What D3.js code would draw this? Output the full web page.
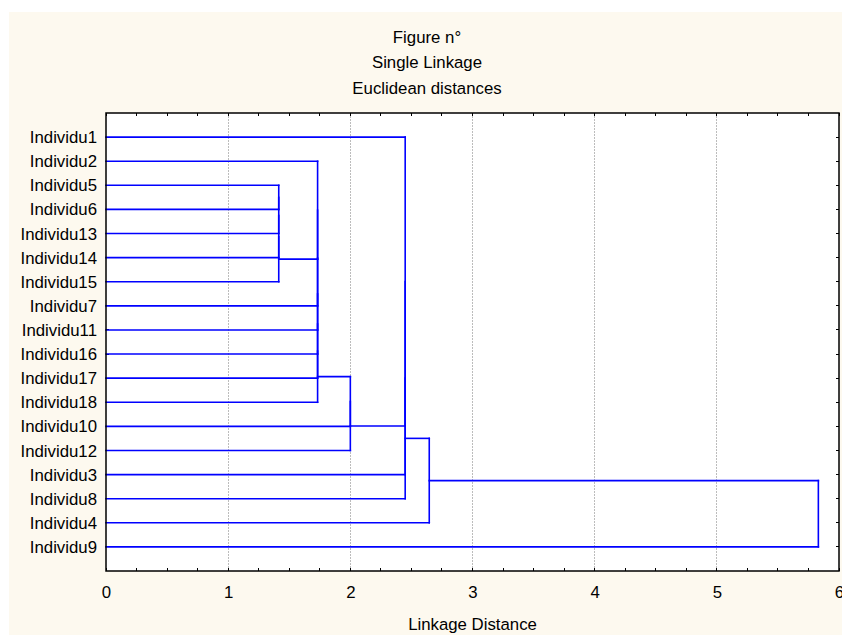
<!DOCTYPE html>
<html>
<head>
<meta charset="utf-8">
<script src="https://cdn.jsdelivr.net/npm/d3@7"></script>
<style>
html,body{margin:0;padding:0;background:#fff;}
svg{display:block;font-family:"Liberation Sans",Arial,sans-serif;}
</style>
</head>
<body>
<svg id="chart" width="842" height="635"></svg>
<script>
// ---- data ----
const titles = ["Figure n°", "Single Linkage", "Euclidean distances"];
const xTitle = "Linkage Distance";
const leaves = ["Individu1","Individu2","Individu5","Individu6","Individu13","Individu14","Individu15",
  "Individu7","Individu11","Individu16","Individu17","Individu18","Individu10","Individu12",
  "Individu3","Individu8","Individu4","Individu9"];
// sequential binary merges: node id, left child, right child, linkage distance
const mergeIds   = ["C1","C2","C3","C4","C5","C6","C7","C8","C9","C10","C11","C12","C13","C14","C15","C16","C17"];
const mergeLeft  = ["Individu5","C1","C2","C3","Individu2","C5","C6","C7","C8","C9","C10","C11","Individu1","C13","C14","C15","C16"];
const mergeRight = ["Individu6","Individu13","Individu14","Individu15","C4","Individu7","Individu11","Individu16","Individu17","Individu18","Individu10","Individu12","C12","Individu3","Individu8","Individu4","Individu9"];
const mergeDist  = [1.414,1.414,1.414,1.414,1.732,1.732,1.732,1.732,1.732,1.732,2.0,2.0,2.449,2.449,2.449,2.646,5.831];
const xTicks = [0,1,2,3,4,5,6];

// ---- layout ----
const FS = 16.8;
const svg = d3.select("#chart");
const L = 106, R = 839, T = 113, B = 571;
const x = d3.scaleLinear().domain([0,6]).range([L,R]);
const y = d3.scaleLinear().domain([0, leaves.length + 1]).range([T,B]);

svg.append("rect").attr("x",9).attr("y",12).attr("width",842-9).attr("height",635-12).attr("fill","#fdf9ef");
svg.append("rect").attr("x",L).attr("y",T).attr("width",R-L).attr("height",B-T).attr("fill","#ffffff");

// titles
const titleY = [43, 68, 94];
titles.forEach((t,i)=>{
  svg.append("text").attr("x",427).attr("y",titleY[i]).attr("text-anchor","middle")
    .attr("font-size",FS).attr("fill","#000").text(t);
});

// grid
svg.append("g").selectAll("line").data(xTicks.filter(d=>d>0&&d<6)).join("line")
  .attr("x1",d=>x(d)).attr("x2",d=>x(d)).attr("y1",T).attr("y2",B)
  .attr("stroke","#bcbcbc").attr("stroke-width",1).attr("stroke-dasharray","2,1")
  .attr("shape-rendering","crispEdges");

// minor ticks top/bottom (inward)
const minor = d3.range(0, 6.001, 0.25);
const tg = svg.append("g").attr("stroke","#000").attr("stroke-width",1).attr("shape-rendering","crispEdges");
minor.forEach(v=>{
  tg.append("line").attr("x1",x(v)).attr("x2",x(v)).attr("y1",T).attr("y2",T+3);
  tg.append("line").attr("x1",x(v)).attr("x2",x(v)).attr("y1",B).attr("y2",B-3);
});
leaves.forEach((d,i)=>{
  tg.append("line").attr("x1",R).attr("x2",R-3).attr("y1",y(i+1)).attr("y2",y(i+1));
  tg.append("line").attr("x1",L).attr("x2",L+3).attr("y1",y(i+1)).attr("y2",y(i+1));
});

// bottom axis labels
const xAxis = d3.axisBottom(x).tickValues(xTicks).tickSize(0).tickPadding(15).tickFormat(d3.format("d"));
const ax = svg.append("g").attr("transform",`translate(0,${B})`).call(xAxis);
ax.select(".domain").remove();
ax.selectAll("text").attr("font-size",FS).attr("font-family","Liberation Sans, Arial, sans-serif").attr("fill","#000");

svg.append("text").attr("x",(L+R)/2).attr("y",630).attr("text-anchor","middle").attr("font-size",FS).text(xTitle);

// leaf labels
svg.append("g").selectAll("text").data(leaves).join("text")
  .attr("x",97).attr("y",(d,i)=>y(i+1)).attr("dy","0.36em").attr("text-anchor","end")
  .attr("font-size",FS).attr("fill","#000").text(d=>d);

// dendrogram
const pos = {};
leaves.forEach((d,i)=>{ pos[d] = {h:0, y:y(i+1)}; });
const lines = [];
mergeIds.forEach((id,k)=>{
  const a = pos[mergeLeft[k]], b = pos[mergeRight[k]], h = mergeDist[k];
  lines.push([a.h, a.y, h, a.y]);
  lines.push([b.h, b.y, h, b.y]);
  lines.push([h, a.y, h, b.y]);
  pos[id] = {h:h, y:(a.y+b.y)/2};
});
svg.append("g").selectAll("line").data(lines.filter(l=>!(l[0]===l[2]&&l[1]===l[3]))).join("line")
  .attr("x1",d=>x(d[0])).attr("x2",d=>x(d[2])).attr("y1",d=>d[1]).attr("y2",d=>d[3])
  .attr("stroke","#0000ff").attr("stroke-width",1.6).attr("stroke-linecap","square");

// frame
svg.append("rect").attr("x",L).attr("y",T).attr("width",R-L).attr("height",B-T)
  .attr("fill","none").attr("stroke","#000").attr("stroke-width",1.5);
</script>
</body>
</html>
